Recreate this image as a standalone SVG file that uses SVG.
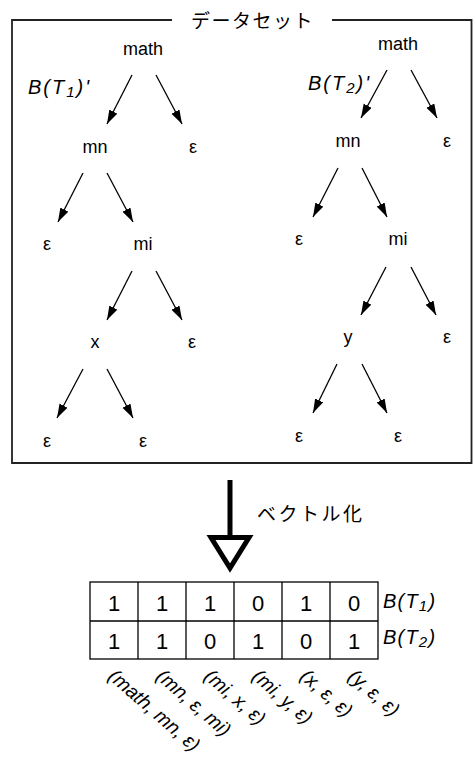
<svg xmlns="http://www.w3.org/2000/svg" width="473" height="760" viewBox="0 0 473 760">
<defs>
<marker id="ah" markerUnits="userSpaceOnUse" markerWidth="16" markerHeight="10" refX="14" refY="4.5" orient="auto">
<path d="M0,0 L14,4.5 L0,9 z" fill="#000"/>
</marker>
<style>
.t{font-family:"Liberation Sans",Arial,sans-serif;font-size:18px;fill:#000;text-anchor:middle}
.it{font-family:"Liberation Sans",Arial,sans-serif;font-size:20px;font-style:italic;fill:#000}
.jp{font-family:"Noto Sans CJK JP","Noto Sans",sans-serif;font-size:19px;fill:#000}
.d{font-family:"Liberation Sans",Arial,sans-serif;font-size:22px;fill:#000;text-anchor:middle}
.lb{font-family:"Liberation Sans",Arial,sans-serif;font-size:19.5px;font-style:italic;fill:#000}
.e{stroke:#000;stroke-width:1.3;fill:none;marker-end:url(#ah)}
.g{stroke:#000;stroke-width:1.3;fill:none}
</style>
</defs>
<rect width="473" height="760" fill="#fff"/>

<g id="dataset-frame">
<path d="M172,20 H12 V463 H471.5 V20 H332" fill="none" stroke="#222" stroke-width="1.8"/>
<text class="jp" x="191" y="28" letter-spacing="1.5">データセット</text>
</g>

<g id="tree1-label"><text class="it" x="28" y="94" letter-spacing="2">B(T<tspan font-size="15" dy="3">1</tspan><tspan dy="-3">)'</tspan></text></g>
<g id="t1-math"><text class="t" x="143" y="55">math</text></g>
<g id="t1-mn"><text class="t" x="95" y="153">mn</text></g>
<g id="t1-e1"><text class="t" x="193" y="153">ε</text></g>
<g id="t1-e2"><text class="t" x="47" y="250">ε</text></g>
<g id="t1-mi"><text class="t" x="143" y="250">mi</text></g>
<g id="t1-x"><text class="t" x="95" y="348">x</text></g>
<g id="t1-e3"><text class="t" x="192" y="348">ε</text></g>
<g id="t1-e4"><text class="t" x="47" y="447">ε</text></g>
<g id="t1-e5"><text class="t" x="143" y="447">ε</text></g>

<g id="tree2-label"><text class="it" x="308" y="90" letter-spacing="2">B(T<tspan font-size="15" dy="3">2</tspan><tspan dy="-3">)'</tspan></text></g>
<g id="t2-math"><text class="t" x="398" y="50">math</text></g>
<g id="t2-mn"><text class="t" x="348" y="147">mn</text></g>
<g id="t2-e1"><text class="t" x="447" y="147">ε</text></g>
<g id="t2-e2"><text class="t" x="299" y="245">ε</text></g>
<g id="t2-mi"><text class="t" x="398" y="245">mi</text></g>
<g id="t2-y"><text class="t" x="348" y="343">y</text></g>
<g id="t2-e3"><text class="t" x="447" y="343">ε</text></g>
<g id="t2-e4"><text class="t" x="299" y="442">ε</text></g>
<g id="t2-e5"><text class="t" x="398" y="442">ε</text></g>

<g id="connectors">
<line class="e" x1="132" y1="75" x2="107" y2="124"/>
<line class="e" x1="156" y1="75" x2="182" y2="124"/>
<line class="e" x1="83" y1="173" x2="58" y2="222"/>
<line class="e" x1="107" y1="173" x2="133" y2="222"/>
<line class="e" x1="132" y1="271" x2="107" y2="320"/>
<line class="e" x1="156" y1="271" x2="182" y2="320"/>
<line class="e" x1="83" y1="369" x2="57" y2="418"/>
<line class="e" x1="107" y1="369" x2="133" y2="418"/>

<line class="e" x1="387" y1="70" x2="361" y2="118"/>
<line class="e" x1="411" y1="70" x2="437" y2="118"/>
<line class="e" x1="338" y1="168" x2="313" y2="217"/>
<line class="e" x1="362" y1="168" x2="387" y2="217"/>
<line class="e" x1="386" y1="267" x2="361" y2="315"/>
<line class="e" x1="411" y1="267" x2="436" y2="315"/>
<line class="e" x1="337" y1="364" x2="313" y2="413"/>
<line class="e" x1="362" y1="364" x2="387" y2="413"/>
</g>

<g id="vectorize-arrow">
<line x1="230" y1="480" x2="230" y2="538" stroke="#000" stroke-width="5"/>
<polygon points="211,537.5 249,537.5 230,568" fill="#fff" stroke="#000" stroke-width="5"/>
<text class="jp" x="257" y="521" letter-spacing="2.5">ベクトル化</text>
</g>

<g id="vector-table">
<rect x="90" y="582" width="288" height="77" class="g"/>
<line class="g" x1="90" y1="621" x2="378" y2="621"/>
<line class="g" x1="138" y1="582" x2="138" y2="659"/>
<line class="g" x1="186" y1="582" x2="186" y2="659"/>
<line class="g" x1="234" y1="582" x2="234" y2="659"/>
<line class="g" x1="282" y1="582" x2="282" y2="659"/>
<line class="g" x1="330" y1="582" x2="330" y2="659"/>
<text class="d" x="114" y="611">1</text>
<text class="d" x="162" y="611">1</text>
<text class="d" x="210" y="611">1</text>
<text class="d" x="258" y="611">0</text>
<text class="d" x="306" y="611">1</text>
<text class="d" x="354" y="611">0</text>
<text class="d" x="114" y="649">1</text>
<text class="d" x="162" y="649">1</text>
<text class="d" x="210" y="649">0</text>
<text class="d" x="258" y="649">1</text>
<text class="d" x="306" y="649">0</text>
<text class="d" x="354" y="649">1</text>
<text class="it" x="383" y="608" letter-spacing="1.2">B(T<tspan font-size="15" dy="3">1</tspan><tspan dy="-3">)</tspan></text>
<text class="it" x="383" y="644" letter-spacing="1.2">B(T<tspan font-size="15" dy="3">2</tspan><tspan dy="-3">)</tspan></text>
</g>

<g id="column-labels">
<text class="lb" transform="translate(107,678) rotate(41)">(math, mn, ε)</text>
<text class="lb" transform="translate(155,678) rotate(41)">(mn, ε, mi)</text>
<text class="lb" transform="translate(203,678) rotate(41)">(mi, x, ε)</text>
<text class="lb" transform="translate(251,678) rotate(41)">(mi, y, ε)</text>
<text class="lb" transform="translate(299,678) rotate(41)">(x, ε, ε)</text>
<text class="lb" transform="translate(347,678) rotate(41)">(y, ε, ε)</text>
</g>
</svg>
